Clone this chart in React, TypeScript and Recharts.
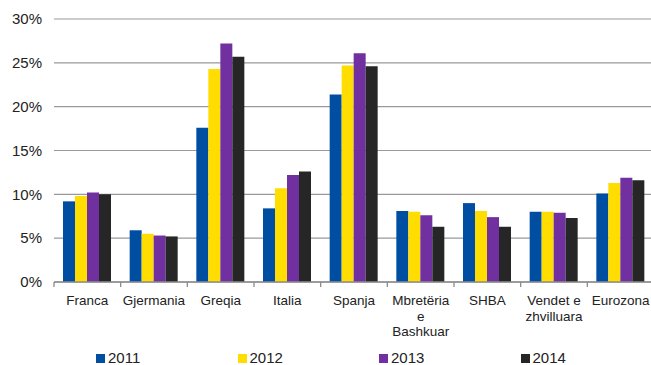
import React from "react";
import { BarChart, Bar, XAxis, YAxis, CartesianGrid, Legend } from "recharts";

const categories = [
  "Franca",
  "Gjermania",
  "Greqia",
  "Italia",
  "Spanja",
  "Mbretëria\ne\nBashkuar",
  "SHBA",
  "Vendet e\nzhvilluara",
  "Eurozona",
];
const v2011 = [9.2, 5.9, 17.6, 8.4, 21.4, 8.1, 9.0, 8.0, 10.1];
const v2012 = [9.8, 5.5, 24.3, 10.7, 24.7, 8.0, 8.1, 8.0, 11.3];
const v2013 = [10.2, 5.3, 27.2, 12.2, 26.1, 7.6, 7.4, 7.9, 11.9];
const v2014 = [10.0, 5.2, 25.7, 12.6, 24.6, 6.3, 6.3, 7.3, 11.6];
const yTicks = [0, 5, 10, 15, 20, 25, 30];

const series = [
  { key: "2011", values: v2011, color: "#004EA2" },
  { key: "2012", values: v2012, color: "#FFDD00" },
  { key: "2013", values: v2013, color: "#7030A0" },
  { key: "2014", values: v2014, color: "#262626" },
];

const data = categories.map((c, i) => {
  const row: Record<string, any> = { name: c };
  series.forEach((s) => {
    row[s.key] = s.values[i];
  });
  return row;
});

const CHART_W = 662;
const CHART_H = 365;
const Y_W = 54;
const M_RIGHT = 8;
const BAND = (CHART_W - Y_W - M_RIGHT) / categories.length;

const XTick = (props: any) => {
  const { x, y, payload, index } = props;
  const lines = String(payload.value).split("\n");
  const left = x - BAND / 2;
  const right = x + BAND / 2;
  return (
    <g>
      <line x1={left} x2={left} y1={y} y2={y + 5} stroke="#8c8c8c" strokeWidth={1.3} />
      {index === categories.length - 1 && (
        <line x1={right} x2={right} y1={y} y2={y + 5} stroke="#8c8c8c" strokeWidth={1.3} />
      )}
      <text
        x={x}
        y={y + 23}
        textAnchor="middle"
        fontSize={13.5}
        fontFamily="'Liberation Sans', Arial, sans-serif"
        fill="#222"
      >
        {lines.map((l, i) => (
          <tspan key={i} x={x} dy={i === 0 ? 0 : 15.7}>
            {l}
          </tspan>
        ))}
      </text>
    </g>
  );
};

const LegendContent = () => (
  <div
    style={{
      position: "relative",
      height: 28,
      display: "flex",
      paddingLeft: 96,
      fontFamily: "'Liberation Sans', Arial, sans-serif",
    }}
  >
    {series.map((s) => (
      <div key={s.key} style={{ position: "relative", width: 144, height: 28 }}>
        <div
          style={{
            position: "absolute",
            left: 0,
            top: 17,
            width: 9,
            height: 9,
            background: s.color,
          }}
        />
        <div
          style={{
            position: "absolute",
            left: 12,
            top: 12.5,
            fontSize: 15,
            lineHeight: "15px",
            color: "#222",
          }}
        >
          {s.key}
        </div>
      </div>
    ))}
  </div>
);

export default function App() {
  return (
    <div style={{ position: "absolute", left: 0, top: 0, width: 651, height: 365, overflow: "hidden", background: "#fff" }}>
      <BarChart
        width={CHART_W}
        height={CHART_H}
        data={data}
        margin={{ top: 19, right: M_RIGHT, left: 0, bottom: 0 }}
        barGap={0}
      >
        <CartesianGrid vertical={false} stroke="#999" strokeWidth={1.2} />
        <XAxis
          dataKey="name"
          height={55}
          interval={0}
          tickLine={false}
          tickSize={0}
          tickMargin={0}
          axisLine={{ stroke: "#8c8c8c", strokeWidth: 1.3 }}
          tick={<XTick />}
        />
        <YAxis
          width={Y_W}
          domain={[0, 30]}
          ticks={yTicks}
          interval={0}
          axisLine={false}
          tickLine={false}
          tickSize={0}
          tickMargin={12}
          tickFormatter={(v: number) => `${v}%`}
          tick={{ fontSize: 15, fill: "#222", fontFamily: "'Liberation Sans', Arial, sans-serif" }}
        />
        <Legend
          verticalAlign="bottom"
          height={28}
          content={<LegendContent />}
          wrapperStyle={{ left: 0, width: CHART_W }}
        />
        {series.map((s) => (
          <Bar key={s.key} dataKey={s.key} fill={s.color} barSize={12} isAnimationActive={false} />
        ))}
      </BarChart>
    </div>
  );
}
